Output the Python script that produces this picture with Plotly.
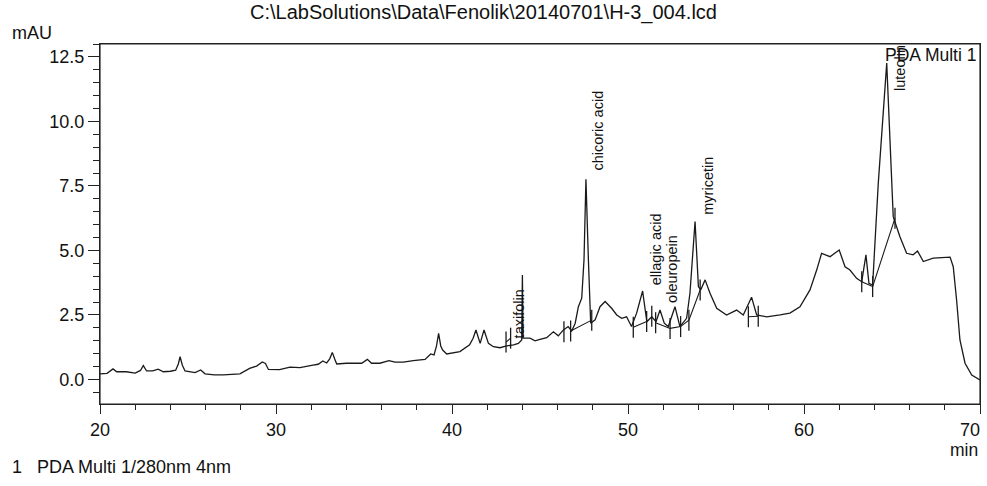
import plotly.graph_objects as go

# ---- chromatogram trace (time in min, absorbance in mAU) ----
time_min = [20.0, 20.4, 20.74, 20.95, 21.5, 22.0, 22.3, 22.46, 22.65, 23.0, 23.3, 23.6, 24.0, 24.3,
            24.45, 24.55, 24.68, 24.83, 25.4, 25.72, 25.97, 26.5, 27.0, 27.5, 27.95, 28.5, 28.9,
            29.22, 29.4, 29.57, 30.2, 30.8, 31.36, 32.1, 32.4, 32.66, 32.88, 33.05, 33.2, 33.33,
            33.45, 34.0, 34.87, 35.19, 35.43, 35.9, 36.42, 36.76, 37.23, 37.8, 38.47, 38.79, 38.98,
            39.12, 39.24, 39.36, 39.47, 39.7, 40.45, 41.0, 41.2, 41.36, 41.6, 41.82, 42.07, 42.35,
            42.73, 43.1, 43.5, 43.77, 43.96, 44.0, 44.04, 44.43, 44.72, 45.0, 45.38, 45.76, 46.04,
            46.33, 46.6, 46.8, 47.0, 47.18, 47.37, 47.5, 47.61, 47.75, 47.88, 48.13, 48.41, 48.7,
            49.07, 49.36, 49.64, 49.92, 50.2, 50.49, 50.83, 51.07, 51.35, 51.59, 51.82, 52.06,
            52.29, 52.67, 52.95, 53.33, 53.52, 53.81, 54.0, 54.13, 54.38, 54.66, 55.04, 55.6,
            56.17, 56.55, 57.02, 57.31, 57.88, 58.64, 59.2, 59.77, 60.34, 60.72, 61.0, 61.48,
            62.0, 62.33, 62.61, 62.99, 63.28, 63.52, 63.69, 63.9, 64.22, 64.7, 64.89, 65.07,
            65.45, 65.83, 66.2, 66.45, 66.78, 67.34, 68.3, 68.48, 68.67, 68.86, 69.15, 69.53, 70.0]
absorbance = [0.22, 0.24, 0.41, 0.30, 0.30, 0.25, 0.35, 0.54, 0.33, 0.33, 0.40, 0.30, 0.32, 0.36,
              0.60, 0.88, 0.55, 0.33, 0.27, 0.37, 0.22, 0.18, 0.18, 0.20, 0.22, 0.43, 0.52,
              0.68, 0.62, 0.39, 0.38, 0.48, 0.46, 0.56, 0.59, 0.72, 0.64, 0.80, 1.05, 0.80,
              0.60, 0.63, 0.63, 0.78, 0.63, 0.63, 0.73, 0.67, 0.67, 0.73, 0.78, 0.99, 0.95,
              1.30, 1.79, 1.30, 1.14, 0.99, 1.08, 1.34, 1.60, 1.92, 1.40, 1.92, 1.40, 1.27,
              1.23, 1.30, 1.34, 1.40, 1.53, 4.05, 1.60, 1.60, 1.50, 1.55, 1.62, 1.85, 1.69,
              1.92, 2.05, 1.88, 2.18, 2.82, 3.15, 4.63, 7.76, 4.63, 2.18, 2.31, 2.82, 3.02,
              2.76, 2.50, 2.37, 2.43, 2.05, 2.57, 3.43, 2.24, 2.43, 2.24, 2.69, 2.18,
              2.05, 2.82, 2.05, 2.37, 3.34, 6.12, 3.60, 3.47, 3.86, 3.34, 2.76, 2.50,
              2.69, 2.50, 3.19, 2.50, 2.43, 2.50, 2.57, 2.82, 3.47, 4.24, 4.89, 4.76,
              5.02, 4.37, 4.24, 3.92, 3.79, 4.83, 3.73, 3.66, 7.60, 12.26, 8.90, 6.31,
              5.53, 4.89, 4.83, 4.98, 4.57, 4.70, 4.74, 4.37, 3.08, 1.53, 0.63, 0.17, -0.02]

# ---- integration baselines (segments separated by None) ----
baseline_t = [43.07, 43.33, None, 46.74, 47.94, None, 50.3, 51.06, None,
              51.57, 52.39, 52.99, 53.46, 54.1, None, 56.84, 57.4, None, 63.28, 63.9, 65.17]
baseline_y = [1.45, 1.6, None, 1.88, 2.3, None, 2.02, 2.25, None,
              2.2, 1.98, 2.05, 2.3, 3.47, None, 2.43, 2.45, None, 3.79, 3.6, 6.25]

# ---- peak start / end marks ----
mark_t = [43.07, 43.33, 46.36, 46.74, 47.94, 50.3, 51.06, 51.35, 51.57, 52.39, 52.99,
          53.46, 54.1, 56.84, 57.4, 63.28, 63.9, 65.17]
mark_y = [1.45, 1.6, 1.85, 1.88, 2.3, 2.02, 2.25, 2.45, 2.2, 1.98, 2.05,
          2.3, 3.47, 2.43, 2.45, 3.79, 3.6, 6.25]

# ---- peak labels ----
peak_names = ["taxifolin", "chicoric acid", "ellagic acid", "oleuropein", "myricetin", "luteolin"]
peak_label_t = [43.8, 48.27, 51.6, 52.5, 54.55, 65.45]
peak_label_y = [1.53, 8.0, 3.58, 2.89, 6.31, 11.1]

x_range = [20, 70]
y_range = [-0.95, 13.0]
x_ticks = [20, 30, 40, 50, 60, 70]
x_tick_text = ["20", "30", "40", "50", "60", ""]
x_end_tick = [70]
x_end_text = ["70"]
y_ticks = [0.0, 2.5, 5.0, 7.5, 10.0, 12.5]

FONT = "Liberation Sans, Arial, sans-serif"
W, H = 987, 486
ML, MR, MT, MB = 100, 7, 44, 82
PW, PH = W - ML - MR, H - MT - MB


def px_x(px):
    return (px - ML) / PW


def px_y(py):
    return (H - MB - py) / PH


fig = go.Figure()
fig.add_trace(go.Scatter(x=time_min, y=absorbance, mode="lines",
                         line=dict(color="#1a1a1a", width=1.3), hoverinfo="skip"))
fig.add_trace(go.Scatter(x=baseline_t, y=baseline_y, mode="lines", xaxis="x2", yaxis="y",
                         line=dict(color="#1a1a1a", width=1.1), connectgaps=False, hoverinfo="skip"))
fig.add_trace(go.Scatter(x=mark_t, y=mark_y, mode="markers",
                         marker=dict(symbol="line-ns", size=15,
                                     line=dict(color="#1a1a1a", width=1.3)),
                         hoverinfo="skip"))

annotations = []
for name, t, v in zip(peak_names, peak_label_t, peak_label_y):
    annotations.append(dict(x=t, y=v, xref="x", yref="y", text=name, textangle=-90,
                            showarrow=False, xanchor="center", yanchor="bottom",
                            font=dict(family=FONT, size=14.5, color="#111")))

annotations += [
    dict(x=px_x(483), y=px_y(12), xref="paper", yref="paper",
         text="C:\\LabSolutions\\Data\\Fenolik\\20140701\\H-3_004.lcd",
         showarrow=False, xanchor="center", yanchor="middle",
         font=dict(family=FONT, size=20, color="#111")),
    dict(x=px_x(10), y=px_y(33), xref="paper", yref="paper", text="mAU",
         showarrow=False, xanchor="left", yanchor="middle",
         font=dict(family=FONT, size=18, color="#111")),
    dict(x=px_x(980), y=px_y(450), xref="paper", yref="paper", text="min",
         showarrow=False, xanchor="right", yanchor="middle",
         font=dict(family=FONT, size=17.5, color="#111")),
    dict(x=px_x(10), y=px_y(467), xref="paper", yref="paper",
         text="1&nbsp;&nbsp;&nbsp;PDA Multi 1/280nm 4nm",
         showarrow=False, xanchor="left", yanchor="middle",
         font=dict(family=FONT, size=18, color="#111")),
    dict(x=px_x(978), y=px_y(55), xref="paper", yref="paper", text="PDA Multi 1",
         showarrow=False, xanchor="right", yanchor="middle",
         font=dict(family=FONT, size=17.5, color="#111")),
]

fig.update_layout(
    width=W, height=H,
    margin=dict(l=ML, r=MR, t=MT, b=MB, pad=0, autoexpand=False),
    paper_bgcolor="white", plot_bgcolor="white",
    showlegend=False,
    annotations=annotations,
    shapes=[dict(type="rect", xref="paper", yref="paper", x0=0, x1=1, y0=0, y1=1,
                 line=dict(color="#222", width=1.2), layer="above")],
    font=dict(family=FONT, size=18, color="#111"),
    xaxis=dict(range=x_range, tickvals=x_ticks, ticktext=x_tick_text,
               showgrid=False, zeroline=False, showline=True, mirror=True,
               linecolor="#222", linewidth=1.2, ticks="outside", ticklen=9,
               tickwidth=1.2, tickcolor="#222", automargin=False,
               minor=dict(dtick=2, tick0=20, ticks="outside", ticklen=5, tickwidth=1.2,
                          tickcolor="#222", showgrid=False),
               tickfont=dict(family=FONT, size=18, color="#111")),
    xaxis2=dict(range=x_range, overlaying="x", anchor="y", side="bottom",
                tickvals=x_end_tick, ticktext=x_end_text, ticklabelshift=-10,
                ticks="outside", ticklen=9, tickwidth=1.2, tickcolor="#222",
                showgrid=False, zeroline=False, showline=False, automargin=False,
                ticklabeloverflow="allow",
                tickfont=dict(family=FONT, size=18, color="#111")),
    yaxis=dict(range=y_range, tickvals=y_ticks, ticktext=[f"{v:.1f}" for v in y_ticks],
               showgrid=False, zeroline=False, showline=True, mirror=True,
               linecolor="#222", linewidth=1.2, ticks="outside", ticklen=11,
               tickwidth=1.2, tickcolor="#222", automargin=False,
               minor=dict(dtick=0.5, tick0=0, ticks="outside", ticklen=6, tickwidth=1.2,
                          tickcolor="#222", showgrid=False),
               tickfont=dict(family=FONT, size=18, color="#111")),
)

fig.write_html("out.html", config={"displayModeBar": False},
               post_script="document.body.style.margin='0px';document.body.style.overflow='hidden';")
